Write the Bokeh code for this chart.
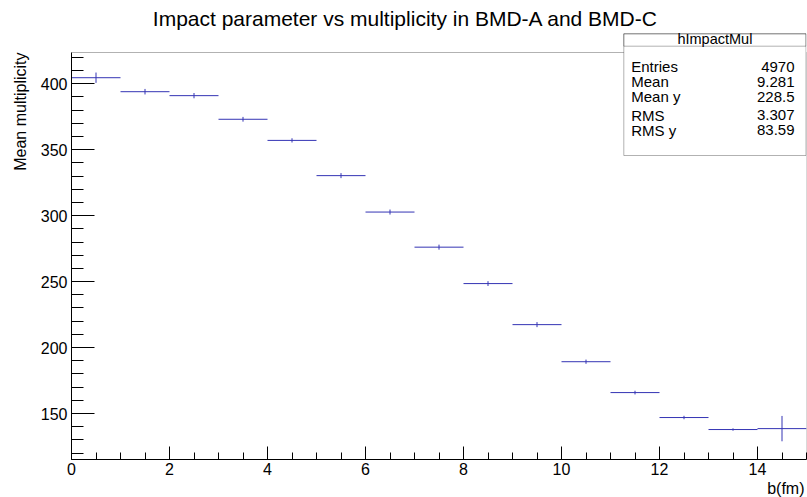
from bokeh.plotting import figure
from bokeh.models import Range1d, SingleIntervalTicker, BoxAnnotation, Label, ColumnDataSource, Title
from bokeh.embed import file_html
from bokeh.resources import INLINE

# ---- data ----
bin_low = [0, 1, 2, 3, 4, 5, 6, 7, 8, 9, 10, 11, 12, 13, 14]
bin_width = 1.0
mean_mult = [404.5, 393.9, 390.9, 373.0, 357.0, 330.3, 302.7, 276.1, 248.5, 217.4, 189.3, 165.9, 147.0, 137.9, 138.6]
mult_err = [3.9, 2.1, 2.0, 1.8, 1.6, 1.9, 1.9, 1.9, 1.8, 1.9, 1.6, 1.4, 1.3, 0.9, 9.6]

title_text = "Impact parameter vs multiplicity in BMD-A and BMD-C"
x_title = "b(fm)"
y_title = "Mean multiplicity"
stats_name = "hImpactMul"
stats_keys = ["Entries", "Mean", "Mean y", "RMS", "RMS y"]
stats_vals = ["4970", "9.281", "228.5", "3.307", "83.59"]

x_lo, x_hi = 0.0, 15.0
y_lo, y_hi = 115.2, 423.6

FONT = "Liberation Sans"
LINE = "#3434b4"

# layout (pixels)
W, H = 807, 497
FRAME_LEFT, FRAME_BOTTOM_BORDER = 71, 38
HIST_TOP = 52                      # top of the histogram frame inside the canvas
frame_h = H - FRAME_BOTTOM_BORDER  # frame reaches to the canvas top
y_end = y_hi + (y_hi - y_lo) * HIST_TOP / (frame_h - HIST_TOP)

src = ColumnDataSource(dict(
    x0=[b for b in bin_low],
    x1=[b + bin_width for b in bin_low],
    xc=[b + bin_width / 2 for b in bin_low],
    y=mean_mult,
    ylo=[m - e for m, e in zip(mean_mult, mult_err)],
    yhi=[m + e for m, e in zip(mean_mult, mult_err)],
))

p = figure(width=W, height=H, output_backend="svg", toolbar_location=None,
           title_location=None,
           x_range=Range1d(x_lo, x_hi), y_range=Range1d(y_lo, y_end),
           min_border_left=FRAME_LEFT, min_border_right=1, min_border_top=0,
           min_border_bottom=FRAME_BOTTOM_BORDER)
p.background_fill_color = "white"
p.border_fill_color = "white"
p.outline_line_color = None
p.xgrid.visible = False
p.ygrid.visible = False

# axes
p.xaxis.ticker = SingleIntervalTicker(interval=2, num_minor_ticks=4)
p.yaxis.ticker = SingleIntervalTicker(interval=50, num_minor_ticks=5)
p.yaxis.bounds = (y_lo, y_hi)
for ax in (p.xaxis, p.yaxis):
    ax.axis_line_color = "black"
    ax.major_tick_line_color = "black"
    ax.minor_tick_line_color = "black"
    ax.major_tick_out = 0
    ax.minor_tick_out = 0
    ax.major_label_text_font = FONT
    ax.major_label_text_font_size = "16px"
    ax.major_label_text_color = "black"
p.xaxis.major_tick_in = 13
p.xaxis.minor_tick_in = 7
p.yaxis.major_tick_in = 23
p.yaxis.minor_tick_in = 12
p.xaxis.major_label_standoff = 3
p.yaxis.major_label_standoff = 4

# histogram frame (top and right edges)
p.add_layout(BoxAnnotation(left=x_lo, right=x_hi, bottom=y_lo, top=y_hi,
                           fill_alpha=0.0, line_color="black", line_width=1))

# data: horizontal bin-width bars and vertical error bars
p.segment(x0="x0", y0="y", x1="x1", y1="y", source=src, line_color=LINE, line_width=1)
p.segment(x0="xc", y0="ylo", x1="xc", y1="yhi", source=src, line_color=LINE, line_width=1)

# axis titles in the side panels
p.add_layout(Title(text=x_title, align="right", text_font=FONT, text_font_size="16px",
                   text_font_style="normal", text_color="black", standoff=0, offset=2), "below")
p.add_layout(Title(text=y_title, align="right", text_font=FONT, text_font_size="16px",
                   text_font_style="normal", text_color="black", standoff=17, offset=HIST_TOP), "left")

# main title (frame-relative screen units: y from frame bottom)
def sy(canvas_y):
    return frame_h - canvas_y

p.add_layout(Label(x=81.3, y=sy(17.5), x_units="screen", y_units="screen", text=title_text,
                   text_font=FONT, text_font_size="21px", text_color="black",
                   text_align="left", text_baseline="alphabetic"))

# stats box
box_l, box_r = 623.3 - FRAME_LEFT, 734.5
p.add_layout(BoxAnnotation(left=box_l, right=box_r, top=sy(33.3), bottom=sy(155.0),
                           left_units="screen", right_units="screen",
                           top_units="screen", bottom_units="screen",
                           fill_color="white", fill_alpha=1.0,
                           line_color="black", line_width=1, level="overlay"))
p.add_layout(BoxAnnotation(left=box_l, right=box_r, top=sy(33.3), bottom=sy(45.7),
                           left_units="screen", right_units="screen",
                           top_units="screen", bottom_units="screen",
                           fill_alpha=0.0,
                           line_color="black", line_width=1, level="overlay"))
p.add_layout(Label(x=(box_l + box_r) / 2, y=sy(38.4), x_units="screen", y_units="screen",
                   text=stats_name, text_font=FONT, text_font_size="14.5px", text_color="black",
                   text_align="center", text_baseline="alphabetic", level="overlay"))
row_canvas_y = [66.3, 81.3, 96.3, 114.6, 129.6]
for k, v, yy in zip(stats_keys, stats_vals, row_canvas_y):
    p.add_layout(Label(x=630.7 - FRAME_LEFT, y=sy(yy), x_units="screen", y_units="screen", text=k,
                       text_font=FONT, text_font_size="15px", text_color="black",
                       text_align="left", text_baseline="alphabetic", level="overlay"))
    p.add_layout(Label(x=794.0 - FRAME_LEFT, y=sy(yy), x_units="screen", y_units="screen", text=v,
                       text_font=FONT, text_font_size="15px", text_color="black",
                       text_align="right", text_baseline="alphabetic", level="overlay"))

open("out.html", "w").write(file_html(p, INLINE))
